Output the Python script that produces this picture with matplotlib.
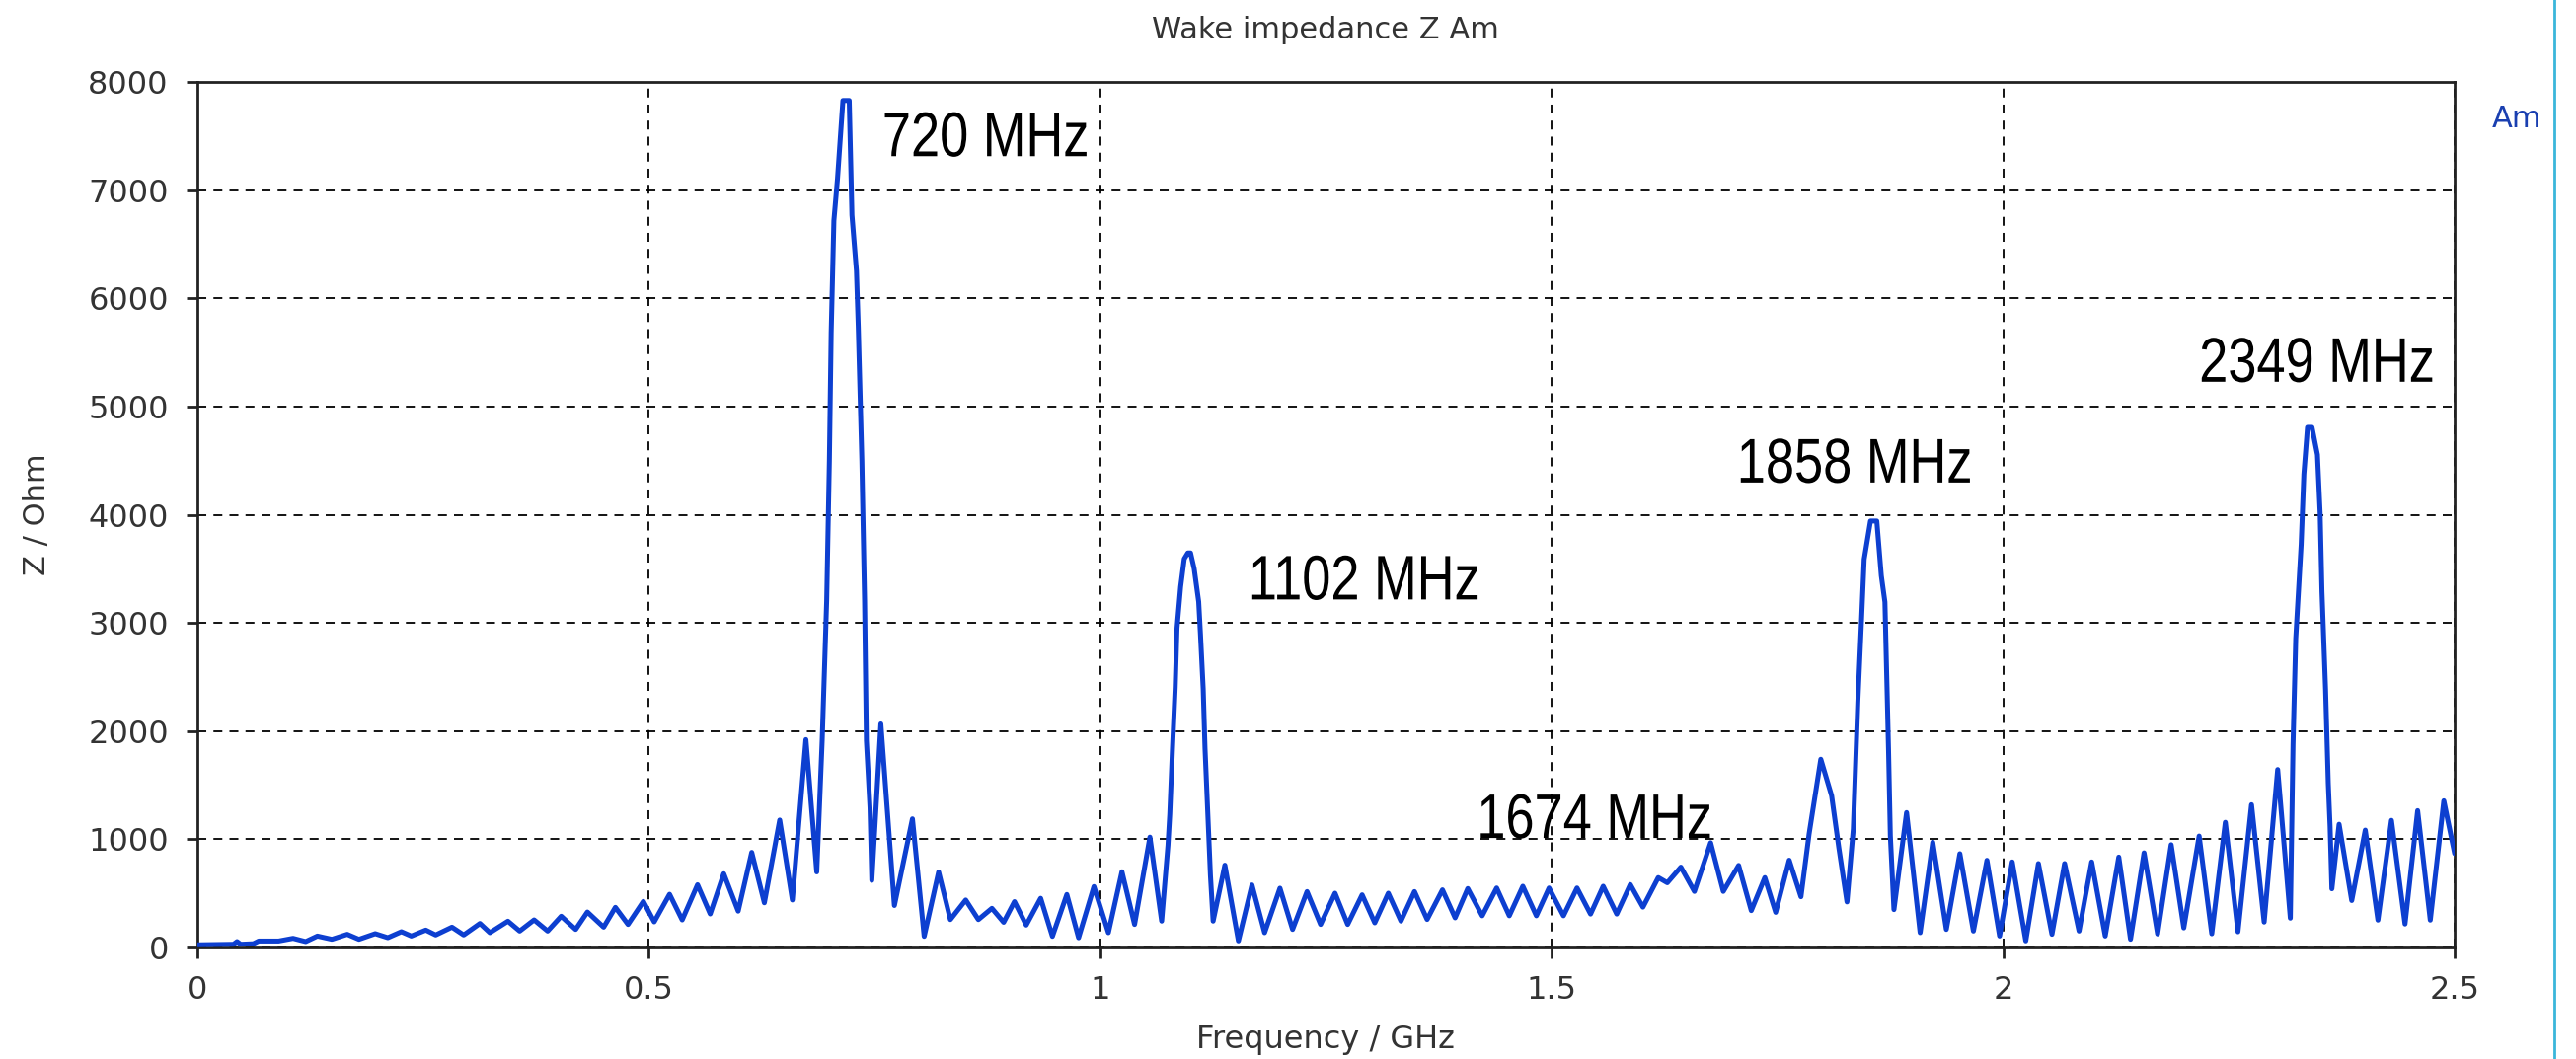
import matplotlib
matplotlib.use("Agg")
import matplotlib.pyplot as plt
from matplotlib.patheffects import AbstractPathEffect
from matplotlib.transforms import Affine2D

freq_ghz = [
    0.000, 0.040, 0.044, 0.048, 0.062, 0.068, 0.090, 0.106, 0.120, 0.133,
    0.149, 0.166, 0.179, 0.197, 0.211, 0.226, 0.237, 0.253, 0.264, 0.282,
    0.295, 0.313, 0.324, 0.344, 0.357, 0.373, 0.388, 0.403, 0.419, 0.432,
    0.450, 0.463, 0.477, 0.494, 0.506, 0.523, 0.537, 0.554, 0.568, 0.583,
    0.599, 0.614, 0.628, 0.645, 0.659, 0.674, 0.686, 0.692, 0.697, 0.700,
    0.702, 0.705, 0.709, 0.712, 0.715, 0.722, 0.725, 0.730, 0.732, 0.736,
    0.739, 0.741, 0.745, 0.747, 0.757, 0.772, 0.792, 0.805, 0.821, 0.834,
    0.851, 0.865, 0.880, 0.893, 0.905, 0.918, 0.934, 0.947, 0.963, 0.976,
    0.993, 1.009, 1.024, 1.038, 1.055, 1.068, 1.075, 1.077, 1.080, 1.083,
    1.085, 1.089, 1.093, 1.097, 1.100, 1.104, 1.109, 1.111, 1.114, 1.116,
    1.119, 1.122, 1.125, 1.138, 1.153, 1.168, 1.182, 1.199, 1.213, 1.229,
    1.244, 1.260, 1.274, 1.290, 1.304, 1.319, 1.333, 1.348, 1.362, 1.379,
    1.393, 1.407, 1.423, 1.439, 1.453, 1.468, 1.483, 1.497, 1.513, 1.528,
    1.543, 1.557, 1.572, 1.587, 1.601, 1.618, 1.628, 1.643, 1.658, 1.676,
    1.690, 1.707, 1.721, 1.736, 1.748, 1.763, 1.776, 1.785, 1.798, 1.810,
    1.818, 1.827, 1.834, 1.839, 1.843, 1.846, 1.853, 1.860, 1.865, 1.869,
    1.871, 1.873, 1.875, 1.879, 1.893, 1.908, 1.922, 1.937, 1.952, 1.967,
    1.982, 1.996, 2.010, 2.025, 2.039, 2.054, 2.068, 2.084, 2.098, 2.113,
    2.128, 2.141, 2.156, 2.171, 2.186, 2.200, 2.217, 2.231, 2.246, 2.260,
    2.275, 2.289, 2.304, 2.318, 2.321, 2.324, 2.327, 2.330, 2.333, 2.337,
    2.342, 2.348, 2.351, 2.353, 2.357, 2.360, 2.362, 2.364, 2.372, 2.386,
    2.401, 2.415, 2.430, 2.445, 2.459, 2.473, 2.488, 2.500,
]
z_ohm = [
    25, 30, 55, 30, 35, 60, 60, 85, 55, 106,
    76, 122, 76, 128, 91, 146, 106, 161, 116, 188,
    116, 222, 137, 243, 152, 255, 152, 289, 167, 328,
    188, 371, 213, 426, 237, 492, 255, 580, 310, 682,
    336, 879, 413, 1178, 439, 1922, 698, 1912, 3204, 4496,
    5685, 6718, 7106, 7468, 7829, 7829, 6770, 6253, 5736, 4496,
    3204, 1912, 1292, 620, 2067, 388, 1189, 103, 698, 258,
    439, 258, 362, 233, 424, 207, 455, 103, 490, 90,
    563, 137, 700, 213, 1020, 244, 944, 1233, 1842, 2405,
    2953, 3333, 3592, 3647, 3647, 3501, 3196, 2892, 2390, 1842,
    1248, 670, 244, 761, 61, 578, 137, 548, 167, 517,
    213, 502, 213, 487, 228, 502, 244, 517, 259, 533,
    274, 545, 293, 550, 293, 566, 293, 550, 293, 550,
    309, 566, 309, 582, 373, 646, 598, 743, 518, 968,
    518, 759, 341, 646, 325, 807, 469, 1048, 1740, 1402,
    920, 421, 1096, 2270, 3010, 3588, 3942, 3942, 3437, 3193,
    2524, 1825, 1034, 350, 1247, 137, 973, 167, 867, 152,
    806, 106, 791, 61, 776, 122, 776, 152, 791, 106,
    836, 76, 875, 125, 950, 181, 1030, 127, 1157, 145,
    1320, 235, 1645, 271, 1880, 2856, 3290, 3724, 4375, 4808,
    4808, 4555, 4013, 3290, 2386, 1518, 1121, 542, 1139, 434,
    1085, 253, 1175, 217, 1265, 253, 1356, 868,
]

# resonance labels: text, left x (GHz), baseline (Ohm)
peak_labels = ["720 MHz", "1102 MHz", "1674 MHz", "1858 MHz", "2349 MHz"]
label_x = [0.7585, 1.164, 1.417, 1.705, 2.217]
label_y = [7314, 3217, 1012, 4298, 5229]

x_ticks = [0, 0.5, 1, 1.5, 2, 2.5]
x_tick_labels = ["0", "0.5", "1", "1.5", "2", "2.5"]
y_ticks = [0, 1000, 2000, 3000, 4000, 5000, 6000, 7000, 8000]


class Squeeze(AbstractPathEffect):
    """Narrow the glyphs horizontally (about the text origin)."""

    def __init__(self, sx):
        super().__init__()
        self.sx = sx

    def draw_path(self, renderer, gc, tpath, affine, rgbFace=None):
        renderer.draw_path(gc, tpath, Affine2D().scale(self.sx, 1.0) + affine, rgbFace)


plt.rcParams['font.family'] = ['DejaVu Sans']

fig = plt.figure(figsize=(26.1, 10.73), dpi=100)
ax = fig.add_axes([0.0766, 0.1053, 0.9529 - 0.0766, 0.9226 - 0.1053])

ax.plot(freq_ghz, z_ohm, color='#0d3fd0', linewidth=3.6,
        solid_joinstyle='round', solid_capstyle='round', zorder=3)

ax.set_xlim(0, 2.5)
ax.set_ylim(0, 8000)
ax.set_xticks(x_ticks)
ax.set_xticklabels(x_tick_labels)
ax.set_yticks(y_ticks)

ax.grid(True, color='black', linewidth=1.3, linestyle=(0, (5, 4)), zorder=1)
for s in ax.spines.values():
    s.set_linewidth(2.0)
    s.set_color('#222222')
ax.tick_params(axis='both', direction='out', length=8, width=2.0, color='#222222',
               labelsize=23, labelcolor='#333333')
ax.tick_params(axis='x', pad=12)
ax.tick_params(axis='y', pad=13)

for txt, xx, yy in zip(peak_labels, label_x, label_y):
    ax.text(xx, yy, txt, family='Liberation Sans', fontsize=46, color='black',
            ha='left', va='baseline', zorder=4, path_effects=[Squeeze(0.82)])

fig.text(0.5147, 0.972, 'Wake impedance Z Am', ha='center', va='center',
         fontsize=22, color='#333333')
fig.text(0.5147, 0.018, 'Frequency / GHz', ha='center', va='center',
         fontsize=23, color='#333333')
fig.text(0.0142, 0.5144, 'Z / Ohm', ha='center', va='center', rotation=90,
         fontsize=22, color='#333333')
fig.text(0.9674, 0.888, 'Am', ha='left', va='center', fontsize=22, color='#1a3fb0')

# thin frame line on the right edge
fig.add_artist(plt.Line2D([0.9916, 0.9916], [0, 1], transform=fig.transFigure,
                          color='#3ab6da', linewidth=2.0))

plt.savefig('out.png', dpi=100)
plt.close()
